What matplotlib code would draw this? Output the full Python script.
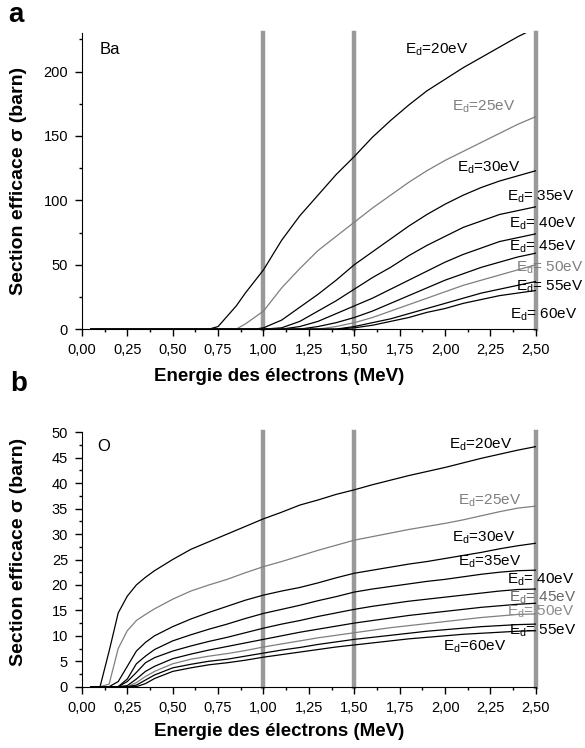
import matplotlib
matplotlib.use('Agg')
import matplotlib.pyplot as plt
from matplotlib.ticker import MultipleLocator, FuncFormatter

plt.rcParams['font.family'] = ['Liberation Sans', 'DejaVu Sans']
plt.rcParams['mathtext.fontset'] = 'custom'
plt.rcParams['mathtext.rm'] = 'Liberation Sans'

# ---- panel a : Ba ----
energy_a = [0.05, 0.70, 0.75, 0.80, 0.85, 0.90, 0.95, 1.00,
            1.10, 1.20, 1.30, 1.40, 1.50, 1.60, 1.70, 1.80,
            1.90, 2.00, 2.10, 2.20, 2.30, 2.40, 2.50]
ba_20 = [0, 0, 2, 10, 18, 28, 37, 46, 69, 88, 104, 120, 134, 149, 162, 174, 185, 194, 203, 211, 219, 227, 234]
ba_25 = [0, 0, 0, 0, 0, 4, 9, 14, 32, 47, 61, 72, 83, 94, 104, 114, 123, 131, 138, 145, 152, 159, 165]
ba_30 = [0, 0, 0, 0, 0, 0, 0, 1, 7, 17, 27, 38, 50, 60, 70, 80, 89, 97, 104, 110, 115, 119, 123]
ba_35 = [0, 0, 0, 0, 0, 0, 0, 0, 1, 6, 14, 22, 31, 40, 48, 57, 65, 72, 79, 84, 89, 92, 95]
ba_40 = [0, 0, 0, 0, 0, 0, 0, 0, 0, 2, 6, 12, 18, 24, 31, 38, 45, 52, 58, 63, 68, 71, 74]
ba_45 = [0, 0, 0, 0, 0, 0, 0, 0, 0, 0, 2, 5, 9, 14, 20, 26, 32, 38, 43, 48, 52, 56, 59]
ba_50 = [0, 0, 0, 0, 0, 0, 0, 0, 0, 0, 0, 2, 5, 9, 14, 19, 24, 29, 34, 38, 42, 46, 50]
ba_55 = [0, 0, 0, 0, 0, 0, 0, 0, 0, 0, 0, 0, 2, 5, 8, 12, 16, 20, 24, 28, 31, 34, 37]
ba_60 = [0, 0, 0, 0, 0, 0, 0, 0, 0, 0, 0, 0, 1, 3, 6, 9, 13, 16, 20, 23, 26, 28, 30]

# ---- panel b : O ----
energy_b = [0.05, 0.10, 0.15, 0.20, 0.25, 0.30, 0.35, 0.40, 0.50, 0.60,
            0.70, 0.80, 0.90, 1.00, 1.10, 1.20, 1.30, 1.40, 1.50, 1.60,
            1.70, 1.80, 1.90, 2.00, 2.10, 2.20, 2.30, 2.40, 2.50]
o_20 = [0, 0, 7, 14.5, 17.8, 20, 21.5, 22.8, 25, 27, 28.5, 30, 31.5, 33, 34.3, 35.7, 36.7, 37.8, 38.7,
        39.7, 40.6, 41.5, 42.3, 43.1, 44, 44.9, 45.7, 46.5, 47.2]
o_25 = [0, 0, 0.5, 7.5, 11, 13, 14.2, 15.3, 17.2, 18.8, 20, 21.1, 22.4, 23.6, 24.6, 25.7, 26.8, 27.8, 28.8,
        29.5, 30.2, 30.9, 31.5, 32.1, 32.8, 33.6, 34.4, 35.1, 35.5]
o_30 = [0, 0, 0, 1, 4, 7, 8.7, 10, 11.8, 13.3, 14.6, 15.8, 17, 18, 18.8, 19.5, 20.4, 21.4, 22.3,
        22.9, 23.5, 24.1, 24.6, 25.2, 25.8, 26.4, 27.1, 27.7, 28.2]
o_35 = [0, 0, 0, 0, 1.5, 4.5, 6, 7.3, 9, 10.2, 11.3, 12.3, 13.4, 14.4, 15.2, 16, 16.9, 17.7, 18.6,
        19.2, 19.7, 20.2, 20.7, 21.1, 21.6, 22.1, 22.5, 22.8, 22.9]
o_40 = [0, 0, 0, 0, 1, 2.8, 4.7, 5.7, 7, 8, 8.9, 9.7, 10.6, 11.5, 12.3, 13, 13.8, 14.5, 15.2,
        15.8, 16.3, 16.8, 17.2, 17.6, 18, 18.4, 18.8, 19.1, 19.2]
o_45 = [0, 0, 0, 0, 0.2, 1.5, 3, 4, 5.5, 6.4, 7.2, 7.9, 8.6, 9.3, 10, 10.7, 11.3, 11.9, 12.5,
        13, 13.5, 14, 14.4, 14.8, 15.2, 15.6, 15.9, 16.2, 16.4]
o_50 = [0, 0, 0, 0, 0, 0.8, 2, 3, 4.5, 5.4, 6, 6.5, 7.1, 7.8, 8.4, 9, 9.6, 10.1, 10.6,
        11.1, 11.6, 12, 12.4, 12.8, 13.2, 13.6, 13.9, 14.2, 14.3]
o_55 = [0, 0, 0, 0, 0, 0.3, 1.3, 2.3, 3.7, 4.4, 5, 5.4, 6, 6.6, 7.2, 7.7, 8.3, 8.8, 9.3,
        9.7, 10.1, 10.5, 10.9, 11.2, 11.5, 11.8, 12, 12.2, 12.3]
o_60 = [0, 0, 0, 0, 0, 0, 0.6, 1.6, 3, 3.7, 4.3, 4.7, 5.2, 5.8, 6.3, 6.8, 7.3, 7.8, 8.2,
        8.6, 9, 9.4, 9.7, 10, 10.3, 10.5, 10.7, 10.9, 11]

ed_values = [20, 25, 30, 35, 40, 45, 50, 55, 60]
marker_lines = [1.0, 1.5, 2.5]

GRAY = '#7f7f7f'
curve_colors = ['black', GRAY, 'black', 'black', 'black', 'black', GRAY, 'black', 'black']

# label positions (x, y) in data units
labels_a = [(1.78, 217), (2.04, 173), (2.065, 125), (2.34, 103), (2.35, 82),
            (2.35, 64), (2.39, 48), (2.39, 33), (2.36, 11)]
labels_b = [(2.02, 47.5), (2.07, 36.6), (2.04, 29.3), (2.07, 24.6), (2.34, 21.0),
            (2.35, 17.5), (2.34, 14.7), (2.35, 11.1), (1.99, 7.9)]
label_fmt_a = ['{}eV', '{}eV', '{}eV', ' {}eV', ' {}eV', ' {}eV', ' {}eV', ' {}eV', ' {}eV']
label_fmt_b = ['{}eV', '{}eV', '{}eV', '{}eV', ' {}eV', ' {}eV', ' {}eV', ' {}eV', '{}eV']
label_colors_a = ['black', GRAY, 'black', 'black', 'black', 'black', GRAY, 'black', 'black']
label_colors_b = ['black', GRAY, 'black', 'black', 'black', '#666666', '#8c8c8c', 'black', 'black']


def comma_fmt(val, pos):
    return f'{val:.2f}'.replace('.', ',')


def setup_axes(ax, ymax, ymajor, yminor):
    ax.set_xlim(0, 2.5)
    ax.set_ylim(0, ymax)
    for side in ['top', 'right']:
        ax.spines[side].set_visible(False)
    ax.xaxis.set_major_locator(MultipleLocator(0.25))
    ax.xaxis.set_minor_locator(MultipleLocator(0.125))
    ax.xaxis.set_major_formatter(FuncFormatter(comma_fmt))
    ax.yaxis.set_major_locator(MultipleLocator(ymajor))
    ax.yaxis.set_minor_locator(MultipleLocator(yminor))
    ax.tick_params(which='major', length=5, width=1, labelsize=10.5, pad=5)
    ax.tick_params(which='minor', length=2.5, width=1)
    for x in marker_lines:
        ax.axvline(x, color='#999999', linewidth=3.2, zorder=1, clip_on=False)


def draw_panel(ax, energy, curves, positions, fmts, lab_colors):
    for vals, col in zip(curves, curve_colors):
        ax.plot(energy, vals, color=col, linewidth=0.9, zorder=2)
    for ed, (x, y), fmt, col in zip(ed_values, positions, fmts, lab_colors):
        ax.text(x, y, r'E$_\mathregular{d}$=' + fmt.format(ed), fontsize=11,
                color=col, ha='left', va='center', zorder=3)


fig = plt.figure(figsize=(5.85, 7.48), dpi=100)

ax_a = fig.add_axes([0.140, 0.560, 0.776, 0.396])
setup_axes(ax_a, 230, 50, 25)
draw_panel(ax_a, energy_a,
           [ba_20, ba_25, ba_30, ba_35, ba_40, ba_45, ba_50, ba_55, ba_60],
           labels_a, label_fmt_a, label_colors_a)
ax_a.text(0.04, 0.943, 'Ba', transform=ax_a.transAxes, fontsize=12, va='center')
ax_a.set_xlabel('Energie des électrons (MeV)', fontsize=13.5, fontweight='bold')
ax_a.set_ylabel('Section efficace σ (barn)', fontsize=14, fontweight='bold')
ax_a.xaxis.set_label_coords(0.434, -0.132)
ax_a.yaxis.set_label_coords(-0.121, 0.5)

ax_b = fig.add_axes([0.140, 0.082, 0.776, 0.340])
setup_axes(ax_b, 50, 5, 2.5)
draw_panel(ax_b, energy_b,
           [o_20, o_25, o_30, o_35, o_40, o_45, o_50, o_55, o_60],
           labels_b, label_fmt_b, label_colors_b)
ax_b.text(0.033, 0.943, 'O', transform=ax_b.transAxes, fontsize=12, va='center')
ax_b.set_xlabel('Energie des électrons (MeV)', fontsize=13.5, fontweight='bold')
ax_b.set_ylabel('Section efficace σ (barn)', fontsize=14, fontweight='bold')
ax_b.xaxis.set_label_coords(0.434, -0.143)
ax_b.yaxis.set_label_coords(-0.121, 0.53)

fig.text(0.014, 0.98, 'a', fontsize=20, fontweight='bold', va='center')
fig.text(0.017, 0.486, 'b', fontsize=20, fontweight='bold', va='center')

fig.savefig('out.png', dpi=100)
